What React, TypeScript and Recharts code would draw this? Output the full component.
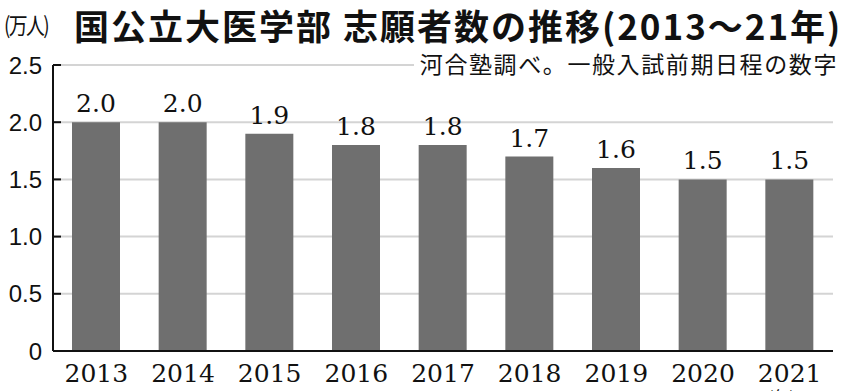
import React from 'react';
import { BarChart, Bar, XAxis, YAxis, CartesianGrid, LabelList } from 'recharts';

const years = ['2013', '2014', '2015', '2016', '2017', '2018', '2019', '2020', '2021'];
const applicants = [2.0, 2.0, 1.9, 1.8, 1.8, 1.7, 1.6, 1.5, 1.5];
const yTicks = [0, 0.5, 1.0, 1.5, 2.0, 2.5];
const boundaryTicks = [1, 2, 3, 4, 5, 6, 7, 8, 9];

const chartData = years.map((year, i) => ({ year, value: applicants[i] }));

const serif = '"DejaVu Serif", "Liberation Serif", serif';
const sans = '"Liberation Sans", Arial, sans-serif';
const jp = '"Noto Sans CJK JP", sans-serif';

const App: React.FC = () => {
  return (
    <div style={{ position: 'absolute', left: 0, top: 0, width: 846, height: 391, background: '#fff', overflow: 'hidden' }}>
      <BarChart
        width={846}
        height={391}
        data={chartData}
        margin={{ top: 65, right: 13, left: 0, bottom: 0 }}
      >
        <CartesianGrid vertical={false} stroke="#d4d4d4" strokeWidth={2} />
        <XAxis
          xAxisId="bounds"
          type="number"
          domain={[0, 9]}
          allowDataOverflow
          ticks={boundaryTicks}
          tickSize={-7}
          tickFormatter={() => ''}
          axisLine={false}
          tickLine={{ stroke: '#111', strokeWidth: 2 }}
          height={0}
        />
        <XAxis
          xAxisId="cat"
          dataKey="year"
          height={40}
          tickLine={false}
          tickSize={0}
          tickMargin={13}
          axisLine={{ stroke: '#111', strokeWidth: 2 }}
          tick={{ fill: '#111', fontSize: 25, fontFamily: serif }}
          interval={0}
        />
        <YAxis
          width={53}
          domain={[0, 2.5]}
          ticks={yTicks}
          tickSize={-8}
          tickMargin={19}
          axisLine={{ stroke: '#111', strokeWidth: 2 }}
          tickLine={{ stroke: '#111', strokeWidth: 2 }}
          tick={{ fill: '#111', fontSize: 24, fontFamily: sans }}
          tickFormatter={(v: number) => (v === 0 ? '0' : v.toFixed(1))}
        />
        <Bar dataKey="value" xAxisId="cat" fill="#6f6f6f" barSize={48} isAnimationActive={false}>
          <LabelList
            dataKey="value"
            position="top"
            offset={10}
            formatter={(v: number) => v.toFixed(1)}
            style={{ fill: '#111', fontSize: 25, fontFamily: serif }}
          />
        </Bar>
      </BarChart>
      <div style={{ position: 'absolute', left: 4, top: 12, fontFamily: jp, fontSize: 23, lineHeight: 1.1, color: '#111', letterSpacing: -2, transform: 'scaleX(0.82)', transformOrigin: 'left top' }}>
        (万人)
      </div>
      <div style={{ position: 'absolute', left: 74, top: 6, fontFamily: jp, fontWeight: 700, fontSize: 35, lineHeight: 1.1, color: '#111', whiteSpace: 'nowrap', letterSpacing: 2 }}>
        国公立大医学部 志願者数の推移(2013～21年)
      </div>
      <div style={{ position: 'absolute', right: 8, top: 50, fontFamily: jp, fontSize: 23, lineHeight: 1.2, color: '#111', background: '#fff', paddingLeft: 6, whiteSpace: 'nowrap', letterSpacing: 1.6 }}>
        河合塾調べ。一般入試前期日程の数字
      </div>
      <div style={{ position: 'absolute', left: 768, top: 388, fontFamily: jp, fontSize: 16, lineHeight: 1, color: '#111' }}>
        (年)
      </div>
    </div>
  );
};

export default App;
